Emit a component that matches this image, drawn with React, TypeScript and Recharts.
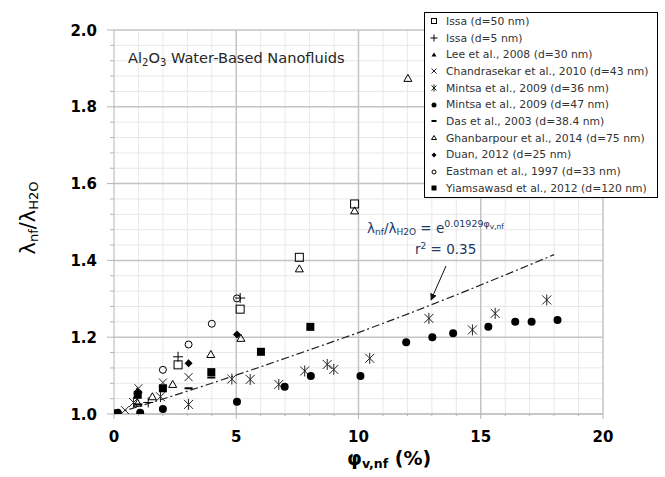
import React from "react";
import { ScatterChart, Scatter, XAxis, YAxis, ReferenceLine, Legend } from "recharts";

type Pt = { x: number; y: number };

// measured conductivity ratios by study
const issa50: Pt[] = [
  { x: 2.62, y: 1.128 }, { x: 5.16, y: 1.273 }, { x: 7.58, y: 1.408 }, { x: 9.84, y: 1.547 },
];
const issa5: Pt[] = [
  { x: 1.4, y: 1.03 }, { x: 2.62, y: 1.149 }, { x: 5.16, y: 1.302 },
];
const lee2008: Pt[] = [
  { x: 0.2, y: 1.004 }, { x: 0.95, y: 1.06 },
];
const chandrasekar2010: Pt[] = [
  { x: 0.45, y: 1.01 }, { x: 1.0, y: 1.067 }, { x: 2.0, y: 1.082 }, { x: 3.05, y: 1.096 },
];
const mintsa36: Pt[] = [
  { x: 0.8, y: 1.03 }, { x: 1.9, y: 1.045 }, { x: 3.05, y: 1.025 }, { x: 4.82, y: 1.091 },
  { x: 5.57, y: 1.09 }, { x: 6.74, y: 1.077 }, { x: 7.8, y: 1.112 }, { x: 8.72, y: 1.129 },
  { x: 8.99, y: 1.116 }, { x: 10.46, y: 1.145 }, { x: 12.88, y: 1.249 }, { x: 14.66, y: 1.219 },
  { x: 15.59, y: 1.262 }, { x: 17.7, y: 1.297 },
];
const mintsa47: Pt[] = [
  { x: 0, y: 1.002 }, { x: 0.15, y: 1.003 }, { x: 1.07, y: 1.003 }, { x: 2.0, y: 1.013 },
  { x: 5.03, y: 1.032 }, { x: 6.98, y: 1.071 }, { x: 8.05, y: 1.099 }, { x: 10.08, y: 1.099 },
  { x: 11.95, y: 1.187 }, { x: 13.02, y: 1.2 }, { x: 13.87, y: 1.21 }, { x: 15.31, y: 1.227 },
  { x: 16.41, y: 1.24 }, { x: 17.08, y: 1.24 }, { x: 18.14, y: 1.245 },
];
const das2003: Pt[] = [
  { x: 1.0, y: 1.025 }, { x: 3.05, y: 1.067 }, { x: 3.98, y: 1.095 },
];
const ghanbarpour2014: Pt[] = [
  { x: 0.97, y: 1.028 }, { x: 1.57, y: 1.045 }, { x: 2.4, y: 1.077 }, { x: 3.96, y: 1.155 },
  { x: 5.19, y: 1.197 }, { x: 7.58, y: 1.378 }, { x: 9.84, y: 1.529 }, { x: 12.02, y: 1.874 },
];
const duan2012: Pt[] = [
  { x: 1.0, y: 1.055 }, { x: 3.05, y: 1.132 }, { x: 5.03, y: 1.207 },
];
const eastman1997: Pt[] = [
  { x: 2.0, y: 1.115 }, { x: 3.05, y: 1.181 }, { x: 4.0, y: 1.235 }, { x: 5.03, y: 1.301 },
];
const yiamsawasd2012: Pt[] = [
  { x: 0.97, y: 1.05 }, { x: 2.0, y: 1.067 }, { x: 3.98, y: 1.109 }, { x: 6.01, y: 1.162 },
  { x: 8.03, y: 1.227 },
];

// exponential fit, sampled
const trendX = [0, 2, 4, 6, 8, 10, 12, 14, 16, 18];
const trendY = [1.0, 1.039, 1.08, 1.123, 1.167, 1.212, 1.26, 1.31, 1.362, 1.415];
const trend: Pt[] = trendX.map((x, i) => ({ x, y: trendY[i] }));

const xTicks = [0, 1, 2, 3, 4, 5, 6, 7, 8, 9, 10, 11, 12, 13, 14, 15, 16, 17, 18, 19, 20];
const xMinor = [1, 2, 3, 4, 6, 7, 8, 9, 11, 12, 13, 14, 16, 17, 18, 19];
const xMajor = [5, 10, 15, 20];
const yTicks = [
  1.0, 1.04, 1.08, 1.12, 1.16, 1.2, 1.24, 1.28, 1.32, 1.36, 1.4, 1.44, 1.48, 1.52, 1.56, 1.6,
  1.64, 1.68, 1.72, 1.76, 1.8, 1.84, 1.88, 1.92, 1.96, 2.0,
];
const yMajor = [1.2, 1.4, 1.6, 1.8, 2.0];
const yMinor = yTicks.filter((v) => v > 1 && !yMajor.includes(v));

type Kind =
  | "openSquare" | "plus" | "filledTriangle" | "cross" | "asterisk" | "filledCircle"
  | "dash" | "openTriangle" | "diamond" | "openCircle" | "filledSquare";

const series: { name: string; kind: Kind; data: Pt[] }[] = [
  { name: "Issa (d=50 nm)", kind: "openSquare", data: issa50 },
  { name: "Issa (d=5 nm)", kind: "plus", data: issa5 },
  { name: "Lee et al., 2008 (d=30 nm)", kind: "filledTriangle", data: lee2008 },
  { name: "Chandrasekar et al., 2010 (d=43 nm)", kind: "cross", data: chandrasekar2010 },
  { name: "Mintsa et al., 2009 (d=36 nm)", kind: "asterisk", data: mintsa36 },
  { name: "Mintsa et al., 2009 (d=47 nm)", kind: "filledCircle", data: mintsa47 },
  { name: "Das et al., 2003 (d=38.4 nm)", kind: "dash", data: das2003 },
  { name: "Ghanbarpour et al., 2014 (d=75 nm)", kind: "openTriangle", data: ghanbarpour2014 },
  { name: "Duan, 2012 (d=25 nm)", kind: "diamond", data: duan2012 },
  { name: "Eastman et al., 1997 (d=33 nm)", kind: "openCircle", data: eastman1997 },
  { name: "Yiamsawasd et al., 2012 (d=120 nm)", kind: "filledSquare", data: yiamsawasd2012 },
];

const FONT = "'DejaVu Sans', Verdana, sans-serif";

const Marker = ({ kind, cx, cy, s }: { kind: Kind; cx: number; cy: number; s: number }) => {
  const h = s / 2;
  switch (kind) {
    case "openSquare":
      return <rect x={cx - h} y={cy - h} width={s} height={s} fill="none" stroke="#000" strokeWidth={1} />;
    case "filledSquare":
      return <rect x={cx - h} y={cy - h} width={s} height={s} fill="#000" />;
    case "plus":
      return (
        <path d={`M${cx - h - 1},${cy}H${cx + h + 1}M${cx},${cy - h - 1}V${cy + h + 1}`} stroke="#000" strokeWidth={1} />
      );
    case "cross":
      return (
        <path d={`M${cx - h},${cy - h}L${cx + h},${cy + h}M${cx - h},${cy + h}L${cx + h},${cy - h}`} stroke="#222" strokeWidth={1} />
      );
    case "asterisk":
      return (
        <path
          d={`M${cx - h},${cy - h}L${cx + h},${cy + h}M${cx - h},${cy + h}L${cx + h},${cy - h}M${cx},${cy - h - 1}V${cy + h + 1}`}
          stroke="#222"
          strokeWidth={1}
        />
      );
    case "filledCircle":
      return <circle cx={cx} cy={cy} r={h} fill="#000" />;
    case "openCircle":
      return <circle cx={cx} cy={cy} r={h - 0.5} fill="none" stroke="#000" strokeWidth={1} />;
    case "dash":
      return <rect x={cx - h} y={cy - 1} width={s} height={2} fill="#000" />;
    case "openTriangle":
      return (
        <path d={`M${cx},${cy - h}L${cx + h},${cy + h - 1}L${cx - h},${cy + h - 1}Z`} fill="none" stroke="#000" strokeWidth={1} />
      );
    case "filledTriangle":
      return <path d={`M${cx},${cy - h}L${cx + h},${cy + h - 1}L${cx - h},${cy + h - 1}Z`} fill="#000" />;
    case "diamond":
      return <path d={`M${cx},${cy - h}L${cx + h},${cy}L${cx},${cy + h}L${cx - h},${cy}Z`} fill="#000" />;
  }
  return null;
};

const XTick = (props: any) => {
  const { x, y, payload } = props;
  const major = payload.value % 5 === 0;
  return (
    <g>
      <line x1={x} x2={x} y1={y} y2={y + (major ? 5 : 2)} stroke="#b4b4b4" />
      {major && (
        <text x={x} y={y + 28} textAnchor="middle" fontFamily={FONT} fontWeight="bold" fontSize={15} fill="#000">
          {payload.value}
        </text>
      )}
    </g>
  );
};

const YTick = (props: any) => {
  const { x, y, payload } = props;
  const v = payload.value as number;
  const major = Math.abs(v * 5 - Math.round(v * 5)) < 1e-6;
  return (
    <g>
      <line x1={x - (major ? 7 : 4)} x2={x} y1={y} y2={y} stroke="#b4b4b4" />
      {major && (
        <text x={x - 17} y={y + 5.5} textAnchor="end" fontFamily={FONT} fontWeight="bold" fontSize={15} fill="#000">
          {v.toFixed(1)}
        </text>
      )}
    </g>
  );
};

const LegendBox = () => (
  <div
    style={{
      border: "1px solid #000",
      background: "#fff",
      width: 234,
      boxSizing: "border-box",
      fontFamily: FONT,
      fontSize: 10.8,
      color: "#333",
    }}
  >
    {series.map((s) => (
      <div key={s.name} style={{ height: 16.7, display: "flex", alignItems: "center", whiteSpace: "nowrap" }}>
        <svg width={21} height={16} style={{ flex: "none" }}>
          <Marker kind={s.kind} cx={9} cy={8} s={5} />
        </svg>
        <span>{s.name}</span>
      </div>
    ))}
  </div>
);

export default function App() {
  return (
    <div style={{ position: "absolute", left: 0, top: 0, width: 665, height: 477, background: "#fff" }}>
      <ScatterChart width={665} height={477} margin={{ top: 30, right: 62, bottom: 0, left: 0 }}>
        <XAxis
          type="number"
          dataKey="x"
          domain={[0, 20]}
          ticks={xTicks}
          interval={0}
          height={63}
          tickSize={0}
          tickMargin={0}
          tickLine={false}
          axisLine={{ stroke: "#b4b4b4", strokeWidth: 1.5 }}
          tick={XTick}
          allowDataOverflow
        />
        <YAxis
          type="number"
          dataKey="y"
          domain={[1, 2]}
          ticks={yTicks}
          interval={0}
          width={114}
          tickSize={0}
          tickMargin={0}
          tickLine={false}
          axisLine={{ stroke: "#b4b4b4" }}
          tick={YTick}
          allowDataOverflow
        />
        {xMinor.map((v) => (
          <ReferenceLine key={`xm${v}`} x={v} stroke="#e8e8e8" strokeWidth={1} />
        ))}
        {yMinor.map((v) => (
          <ReferenceLine key={`ym${v}`} y={v} stroke="#e8e8e8" strokeWidth={1} />
        ))}
        {xMajor.map((v) => (
          <ReferenceLine key={`xM${v}`} x={v} stroke="#c4c4c4" strokeWidth={1.5} />
        ))}
        {yMajor.map((v) => (
          <ReferenceLine key={`yM${v}`} y={v} stroke="#c4c4c4" strokeWidth={1.5} />
        ))}
        <Scatter
          name="fit"
          data={trend}
          line={{ stroke: "#222", strokeWidth: 1.2, strokeDasharray: "8 3 2 3" }}
          lineType="joint"
          shape={() => <g />}
          legendType="none"
          isAnimationActive={false}
        />
        {series.map((s) => (
          <Scatter
            key={s.name}
            name={s.name}
            data={s.data}
            isAnimationActive={false}
            shape={(p: any) => <Marker kind={s.kind} cx={p.cx} cy={p.cy} s={s.kind === "asterisk" ? 9 : 8} />}
          />
        ))}
        <Legend
          layout="vertical"
          align="center"
          verticalAlign="middle"
          content={LegendBox}
          wrapperStyle={{ position: "absolute", left: 424, top: 12, width: 234 }}
        />
      </ScatterChart>

      <svg width={665} height={477} style={{ position: "absolute", left: 0, top: 0, pointerEvents: "none" }}>
        <defs>
          <marker id="arrowHead" viewBox="0 0 10 10" refX="9" refY="5" markerWidth="7" markerHeight="7" orient="auto">
            <path d="M0,0L10,5L0,10Z" fill="#111" />
          </marker>
        </defs>
        <text x={128} y={63} fontFamily={FONT} fontSize={14.6} fill="#262626">
          Al<tspan fontSize={10} dy={3}>2</tspan>
          <tspan dy={-3}>O</tspan>
          <tspan fontSize={10} dy={3}>3</tspan>
          <tspan dy={-3}> Water-Based Nanofluids</tspan>
        </text>

        <text x={367} y={233} fontFamily={FONT} fontSize={13.5} fill="#203864">
          λ<tspan fontSize={9} dy={2}>nf</tspan>
          <tspan dy={-2}>/λ</tspan>
          <tspan fontSize={9} dy={2}>H2O</tspan>
          <tspan dy={-2}> = e</tspan>
          <tspan fontSize={9.5} dy={-6}>0.01929φ</tspan>
          <tspan fontSize={7.5} dy={2}>v,nf</tspan>
        </text>
        <text x={415} y={254} fontFamily={FONT} fontSize={13.5} fill="#203864">
          r<tspan fontSize={9} dy={-5}>2</tspan>
          <tspan dy={5}> = 0.35</tspan>
        </text>
        <line x1={446} y1={266} x2={431} y2={300} stroke="#111" strokeWidth={1} markerEnd="url(#arrowHead)" />

        <text x={347} y={465} fontFamily={FONT} fontWeight="bold" fontSize={19} fill="#000">
          φ<tspan fontSize={12.5} dy={3}>v,nf</tspan>
          <tspan dy={-3}> (%)</tspan>
        </text>

        <text
          transform="translate(35,218) rotate(-90)"
          textAnchor="middle"
          fontFamily={FONT}
          fontSize={21}
          fill="#000"
        >
          λ<tspan fontSize={13} dy={3}>nf</tspan>
          <tspan dy={-3}>/λ</tspan>
          <tspan fontSize={13} dy={3}>H2O</tspan>
        </text>
      </svg>
    </div>
  );
}
